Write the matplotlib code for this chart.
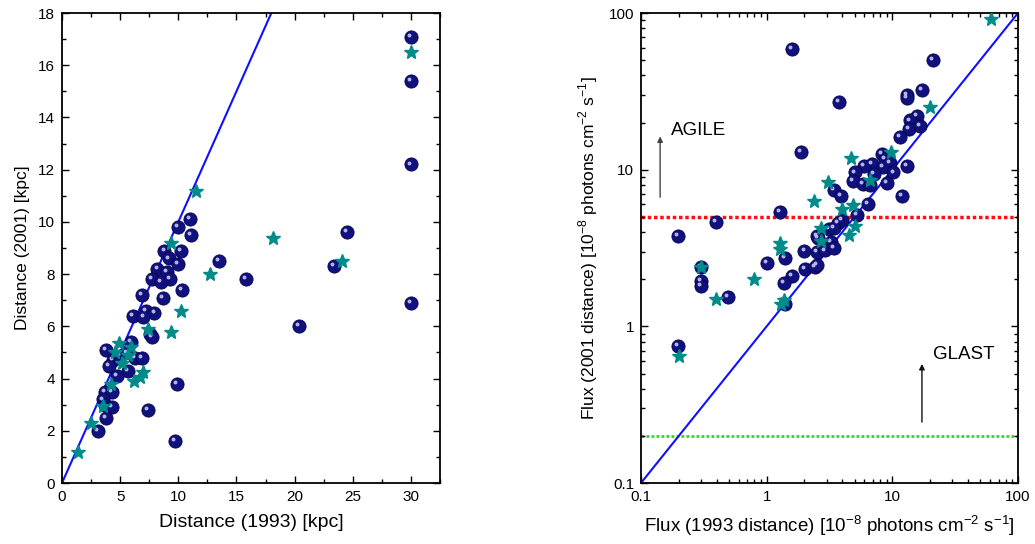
import matplotlib
matplotlib.use("Agg")
import matplotlib.pyplot as plt
import matplotlib.transforms as mtransforms
import numpy as np
from matplotlib.ticker import MultipleLocator

plt.rcParams["font.family"] = ["Liberation Sans", "DejaVu Sans"]

# left panel: distance 1993 vs 2001 [kpc]
dist_1993_pulsar = [30, 30, 30, 30, 24.5, 23.4, 20.4, 15.8, 13.5,
                    11.0, 11.1, 10.0, 10.2, 8.8, 9.2, 10.0, 8.2, 9.0, 7.7, 9.3, 8.5, 10.3, 8.7, 6.9,
                    7.2, 7.95, 6.1, 7.0, 7.6, 7.7,
                    5.9, 3.8, 5.6, 4.4, 4.0, 5.0, 6.3, 6.9, 5.7, 4.7, 3.7, 4.3, 3.5, 3.7, 4.3, 3.8, 3.1,
                    9.9, 7.4, 9.7]
dist_2001_pulsar = [17.1, 15.4, 12.2, 6.9, 9.6, 8.3, 6.0, 7.8, 8.5,
                    10.1, 9.5, 9.8, 8.9, 8.9, 8.6, 8.4, 8.2, 8.1, 7.8, 7.8, 7.7, 7.4, 7.1, 7.2,
                    6.6, 6.5, 6.4, 6.35, 5.7, 5.6,
                    5.4, 5.1, 5.0, 4.7, 4.5, 4.85, 4.8, 4.8, 4.3, 4.1, 3.5, 3.5, 3.2, 3.0, 2.9, 2.5, 2.0,
                    3.8, 2.8, 1.6]
dist_1993_star = [30, 24.1, 18.1, 12.7, 11.5, 9.4, 10.2, 9.4, 7.4, 1.4, 2.5, 3.5, 4.2,
                  4.9, 4.6, 5.95, 5.2, 5.7, 7.0, 6.7, 6.2]
dist_2001_star = [16.5, 8.5, 9.4, 8.0, 11.2, 9.2, 6.6, 5.8, 5.9, 1.2, 2.3, 2.95, 3.8,
                  5.35, 5.0, 5.2, 4.6, 4.9, 4.25, 4.05, 3.9]

# right panel: flux [1e-8 photons cm^-2 s^-1]
flux_1993_pulsar = [1.59, 21.0, 3.78, 13.0, 13.0, 17.1, 15.6, 13.8, 13.6, 16.6, 11.5, 1.88,
                    8.3, 8.7, 9.6, 6.85, 5.94, 8.4, 13.0, 5.04, 7.14, 10.2, 4.83, 5.8, 6.6, 9.0,
                    3.45, 3.9, 12.0, 6.43, 1.28, 0.395, 0.197, 5.2, 3.95, 3.7, 3.15, 3.45,
                    2.5, 2.57, 3.24, 2.0, 2.5, 2.9, 3.45, 1.40, 1.0, 2.02, 2.42, 2.5,
                    1.58, 1.38, 0.3, 0.3, 0.495, 0.3, 0.197, 1.40]
flux_2001_pulsar = [59.2, 50.1, 27.0, 29.9, 28.6, 32.3, 22.0, 20.6, 18.1, 19.0, 16.1, 12.9,
                    12.6, 11.7, 11.0, 10.9, 10.6, 10.35, 10.6, 9.6, 9.35, 9.6, 8.5, 8.07, 7.95, 8.26,
                    7.39, 6.8, 6.75, 6.04, 5.35, 4.64, 3.78, 5.14, 4.78, 4.59, 4.17, 4.26,
                    3.79, 3.67, 3.44, 3.03, 2.98, 3.05, 3.17, 2.72, 2.53, 2.31, 2.40, 2.47,
                    2.1, 1.9, 1.96, 1.81, 1.55, 2.4, 0.753, 1.39]
flux_1993_star = [60.5, 19.9, 9.75, 4.66, 6.7, 3.05, 2.38, 3.99, 4.89, 5.07, 4.49, 2.7, 2.7,
                  1.28, 1.28, 0.79, 0.3, 0.395, 1.29, 1.37, 0.2]
flux_2001_star = [91.0, 25.2, 13.0, 11.9, 8.6, 8.4, 6.34, 5.61, 5.96, 4.37, 3.85, 4.23, 3.52,
                  3.42, 3.1, 2.0, 2.4, 1.5, 1.39, 1.47, 0.65]

agile_limit = 5.0
glast_limit = 0.2
one_to_one = np.array([0.01, 1000])

navy = "#10107e"
teal = "#008b8b"


def spheres(ax, x, y):
    ax.plot(x, y, "o", ls="none", color=navy, mec="#05054a", mew=0.6, ms=9.5, zorder=3)
    shift = mtransforms.offset_copy(ax.transData, fig=ax.figure, x=-1.3, y=1.4, units="points")
    ax.plot(x, y, "o", ls="none", color="#c8c8f0", mew=0, ms=2.8, alpha=0.9,
            transform=shift, zorder=4)


def style_axes(ax):
    for sp in ax.spines.values():
        sp.set_linewidth(1.3)
    ax.tick_params(which="both", direction="in", top=True, right=True, labelsize=11, pad=5)
    ax.tick_params(which="major", length=5, width=1)
    ax.tick_params(which="minor", length=3, width=1)


fig = plt.figure(figsize=(10.35, 5.44), dpi=100)

# left panel
ax1 = fig.add_axes([0.0599, 0.1121, 0.3652, 0.864])
ax1.plot(one_to_one, one_to_one, color="#1010ff", lw=1.5, zorder=2)
spheres(ax1, dist_1993_pulsar, dist_2001_pulsar)
ax1.plot(dist_1993_star, dist_2001_star, "*", ls="none", color=teal, ms=10.5, zorder=5)
ax1.set_xlim(0, 32.5)
ax1.set_ylim(0, 18)
ax1.xaxis.set_major_locator(MultipleLocator(5))
ax1.xaxis.set_minor_locator(MultipleLocator(2.5))
ax1.yaxis.set_major_locator(MultipleLocator(2))
ax1.yaxis.set_minor_locator(MultipleLocator(1))
ax1.set_xlabel("Distance (1993) [kpc]", fontsize=14, labelpad=7)
ax1.set_ylabel("Distance (2001) [kpc]", fontsize=12.5, labelpad=6)
style_axes(ax1)

# right panel
ax2 = fig.add_axes([0.6193, 0.1121, 0.3643, 0.864])
ax2.set_xscale("log")
ax2.set_yscale("log")
ax2.plot(one_to_one, one_to_one, color="#1010ff", lw=1.5, zorder=2)
ax2.axhline(agile_limit, color="#ff1010", ls=(0, (1, 0.8)), lw=2.5, zorder=1)
ax2.axhline(glast_limit, color="#20e020", ls=(0, (1, 0.8)), lw=2.0, zorder=1)
spheres(ax2, flux_1993_pulsar, flux_2001_pulsar)
ax2.plot(flux_1993_star, flux_2001_star, "*", ls="none", color=teal, ms=10.5, zorder=5)
ax2.set_xlim(0.1, 100)
ax2.set_ylim(0.1, 100)
ax2.set_xticks([0.1, 1, 10, 100], labels=["0.1", "1", "10", "100"])
ax2.set_yticks([0.1, 1, 10, 100], labels=["0.1", "1", "10", "100"])
ax2.set_xlabel("Flux (1993 distance) [10$^{\\mathregular{-8}}$ photons cm$^{\\mathregular{-2}}$ s$^{\\mathregular{-1}}$]",
               fontsize=13.5, labelpad=7)
ax2.set_ylabel("Flux (2001 distance) [10$^{\\mathregular{-8}}$ photons cm$^{\\mathregular{-2}}$ s$^{\\mathregular{-1}}$]",
               fontsize=12.5, labelpad=6)
style_axes(ax2)

ax2.annotate("", xy=(0.142, 17.0), xytext=(0.142, 6.4),
             arrowprops=dict(arrowstyle="-|>", color="#444444", lw=1, mutation_scale=8))
ax2.text(0.172, 17.9, "AGILE", fontsize=13.5, va="center", ha="left")
ax2.annotate("", xy=(17.2, 0.6), xytext=(17.2, 0.235),
             arrowprops=dict(arrowstyle="-|>", color="#111111", lw=1, mutation_scale=8))
ax2.text(21.0, 0.66, "GLAST", fontsize=13.5, va="center", ha="left")

fig.savefig("out.png", dpi=100)
